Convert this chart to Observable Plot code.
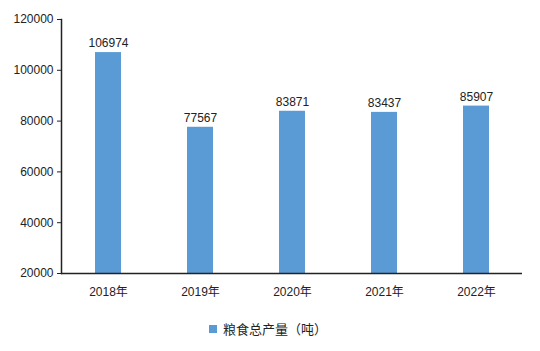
<!DOCTYPE html>
<html>
<head>
<meta charset="utf-8">
<script src="https://cdn.jsdelivr.net/npm/d3@7"></script>
<script src="https://cdn.jsdelivr.net/npm/@observablehq/plot@0.6"></script>
<style>
  body { margin: 0; background: #fff; font-family: "Liberation Sans", "Noto Sans CJK SC", sans-serif; }
  #chart svg { display: block; }
  .legend { display: flex; align-items: center; justify-content: flex-start; padding-left: 209px; margin-top: 14px; font-size: 13px; color: #222; font-family: "Noto Sans CJK SC", sans-serif; }
  .legend .sw { width: 8px; height: 8px; background: #5b9bd5; margin-right: 6px; }
</style>
</head>
<body>
<div id="chart"></div>
<div class="legend"><span class="sw"></span><span>粮食总产量（吨）</span></div>
<script>
const years = ["2018年", "2019年", "2020年", "2021年", "2022年"];
const output = [106974, 77567, 83871, 83437, 85907];
const yTicks = [20000, 40000, 60000, 80000, 100000, 120000];

const data = years.map((y, i) => ({year: y, value: output[i]}));

const chart = Plot.plot({
  width: 540,
  height: 305,
  marginTop: 19,
  marginBottom: 32,
  marginLeft: 61,
  marginRight: 18,
  style: {fontFamily: "'Liberation Sans', 'Noto Sans CJK SC', sans-serif", fontSize: "12px", color: "#222", background: "#fff"},
  x: {domain: years, paddingInner: 0.72, paddingOuter: 0.36, label: null},
  y: {domain: [20000, 120000], ticks: yTicks, label: null},
  marks: [
    Plot.barY(data, {x: "year", y1: 20000, y2: "value", fill: "#5b9bd5"}),
    Plot.text(data, {x: "year", y: "value", text: d => String(d.value), dy: -9, fill: "#222", fontSize: 12}),
    Plot.axisY({ticks: yTicks, tickFormat: d => String(d), tickSize: 4, tickPadding: 4, stroke: "#222", fill: "#222", fontSize: 12}),
    Plot.axisX({tickSize: 0, tickPadding: 14, fill: "#222", fontSize: 12}),
    Plot.frame({anchor: "left", stroke: "#222", strokeWidth: 1.5}),
    Plot.ruleY([20000], {stroke: "#222", strokeWidth: 1.5})
  ]
});
document.getElementById("chart").append(chart);
</script>
</body>
</html>
